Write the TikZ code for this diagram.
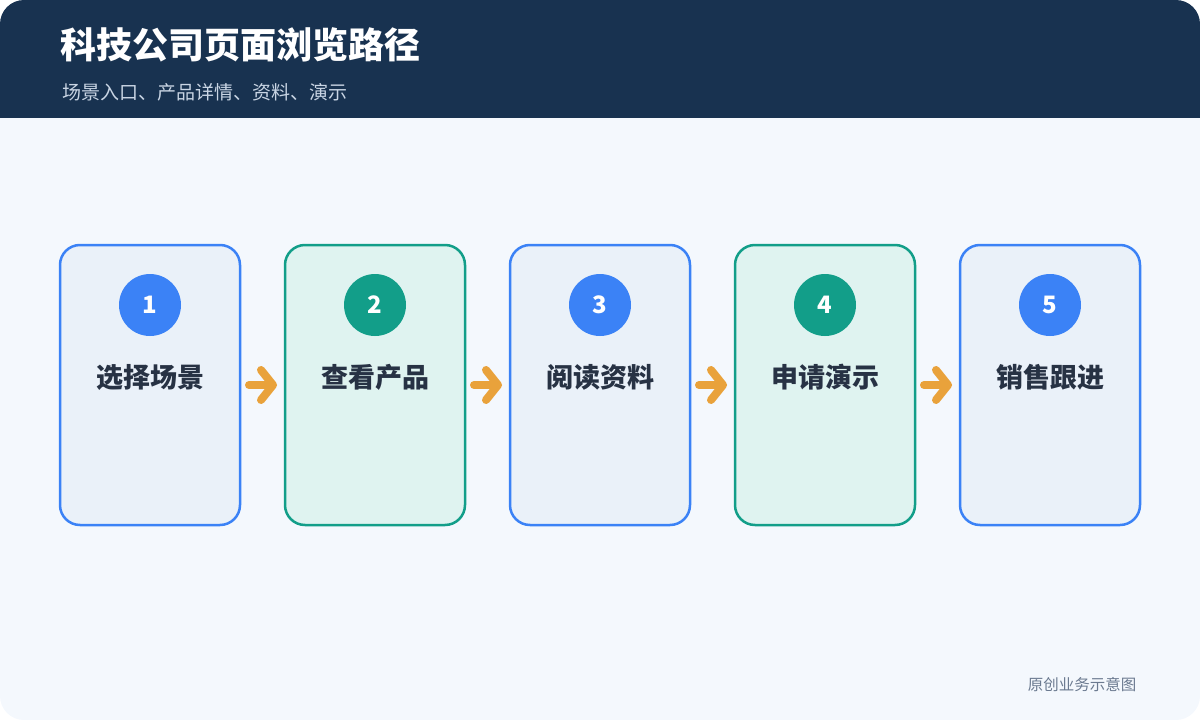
\documentclass[tikz,border=0pt]{standalone}
\usepackage{fontspec}
\setmainfont{Noto Sans CJK SC}
\usetikzlibrary{positioning,arrows.meta}
\definecolor{headbg}{HTML}{183250}
\definecolor{pagebg}{HTML}{F4F8FD}
\definecolor{subtext}{HTML}{C9D5E4}
\definecolor{cardblue}{HTML}{3B82F6}
\definecolor{cardbluebg}{HTML}{EAF1F9}
\definecolor{cardgreen}{HTML}{129E89}
\definecolor{cardgreenbg}{HTML}{DFF3F0}
\definecolor{labeltext}{HTML}{273244}
\definecolor{flowarrow}{HTML}{E9A23B}
\definecolor{notetext}{HTML}{6B7A90}
\tikzset{
  card/.style={rectangle, rounded corners=20pt, line width=2.5pt, outer sep=0pt, minimum width=180pt, minimum height=280pt},
  bluecard/.style={card, draw=cardblue, fill=cardbluebg},
  greencard/.style={card, draw=cardgreen, fill=cardgreenbg},
  numnode/.style={circle, minimum size=62pt, inner sep=0pt, text=white, font=\fontsize{24}{28}\selectfont\bfseries},
  numblue/.style={numnode, fill=cardblue},
  numgreen/.style={numnode, fill=cardgreen},
  steplabel/.style={text=labeltext, font=\fontsize{27}{30}\selectfont\bfseries},
  flow/.style={draw=flowarrow, line width=8pt, line cap=round, shorten <=9pt, shorten >=8pt,
    -{Straight Barb[length=12pt, width=30pt, round]}}
}
\begin{document}
\begin{tikzpicture}[x=1pt, y=-1pt]
    \useasboundingbox (0,0) rectangle (1200,720);
    \begin{scope}
    	\clip[rounded corners=24pt] (0,0) rectangle (1200,720);
    	\fill[pagebg] (0,0) rectangle (1200,720);
    	\fill[headbg] (0,0) rectangle (1200,118);
    \end{scope}
    \node[anchor=west, text=white, font=\fontsize{36}{40}\selectfont\bfseries] (title) at (57,45) {科技公司页面浏览路径};
    \node[anchor=west, text=subtext, font=\fontsize{19}{22}\selectfont] (subtitle) at (59,92) {场景入口、产品详情、资料、演示};
    % cards
    \node[bluecard] (card1) at (150,385) {};
    \node[greencard, right=45pt of card1] (card2) {};
    \node[bluecard, right=45pt of card2] (card3) {};
    \node[greencard, right=45pt of card3] (card4) {};
    \node[bluecard, right=45pt of card4] (card5) {};
    \node[numblue, yshift=80pt] (n1) at (card1) {1};
    \node[numgreen, yshift=80pt] (n2) at (card2) {2};
    \node[numblue, yshift=80pt] (n3) at (card3) {3};
    \node[numgreen, yshift=80pt] (n4) at (card4) {4};
    \node[numblue, yshift=80pt] (n5) at (card5) {5};
    \node[steplabel, yshift=8pt] (t1) at (card1) {选择场景};
    \node[steplabel, yshift=8pt] (t2) at (card2) {查看产品};
    \node[steplabel, yshift=8pt] (t3) at (card3) {阅读资料};
    \node[steplabel, yshift=8pt] (t4) at (card4) {申请演示};
    \node[steplabel, yshift=8pt] (t5) at (card5) {销售跟进};
    % arrows
    \draw[flow] (card1.east) -- (card2.west);
    \draw[flow] (card2.east) -- (card3.west);
    \draw[flow] (card3.east) -- (card4.west);
    \draw[flow] (card4.east) -- (card5.west);
    \node[anchor=east, text=notetext, font=\fontsize{15.5}{18}\selectfont] (note) at (1140,685) {原创业务示意图};
\end{tikzpicture}
\end{document}
